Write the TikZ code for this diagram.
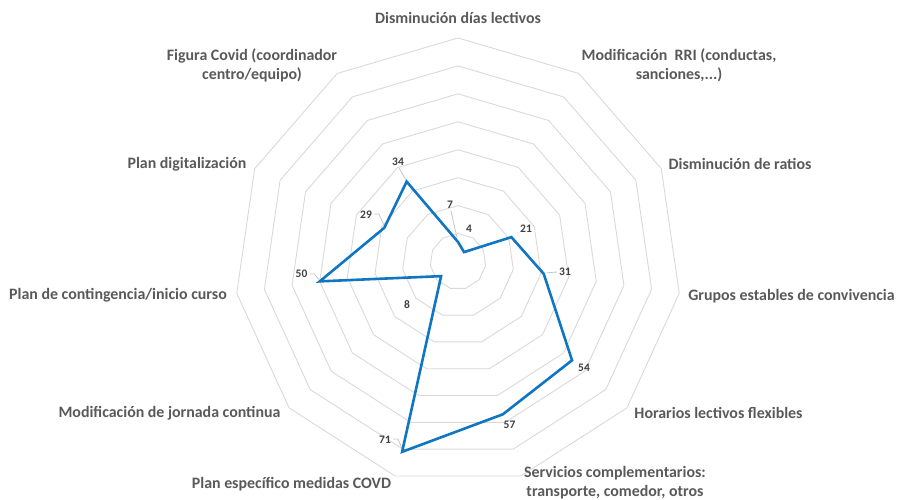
\documentclass[tikz,border=0pt]{standalone}
\usepackage{fontspec}
\setmainfont{Carlito}
\usetikzlibrary{calc}
\definecolor{gridc}{RGB}{217,217,217}
\definecolor{txtc}{RGB}{89,89,89}
\definecolor{valc}{RGB}{64,64,64}
\definecolor{serc}{RGB}{16,117,194}
\begin{document}
\begin{tikzpicture}[x=1pt,y=-1pt,
  gridline/.style={draw=gridc,line width=0.9pt},
  serline/.style={draw=serc,line width=2.6pt,line join=miter},
  axlabel/.style={text=txtc,font=\bfseries\fontsize{15.9}{19}\selectfont,align=center,inner sep=0pt},
  vallabel/.style={text=valc,font=\bfseries\fontsize{11.5}{13}\selectfont,inner sep=0pt},
  leader/.style={draw=gridc!80!gray,line width=0.8pt}]
\useasboundingbox (0,0) rectangle (900,500);
\coordinate (C) at (458,261.5);
% grid rings
\foreach \i in {1,...,8}{
  \draw[gridline] ($(C)+({\i*27.94*sin(0)},{-\i*27.94*cos(0)})$)
    \foreach \k in {1,...,10}{ -- ($(C)+({\i*27.94*sin(\k*360/11)},{-\i*27.94*cos(\k*360/11)})$)} -- cycle;
}
% data points
\foreach \k/\v in {0/7,1/4,2/21,3/31,4/54,5/57,6/71,7/8,8/50,9/29,10/34}{
  \coordinate (p\k) at ($(C)+({\v*2.794*sin(\k*360/11)},{-\v*2.794*cos(\k*360/11)})$);
}
% axis labels
\node[axlabel] (l0) at (458,18) {Disminución días lectivos};
\node[axlabel] (l1) at (679,65) {Modificación\ \ RRI (conductas,\\sanciones,...)};
\node[axlabel] (l2) at (740,164) {Disminución de ratios};
\node[axlabel] (l3) at (791.5,296) {Grupos estables de convivencia};
\node[axlabel] (l4) at (718.5,413) {Horarios lectivos flexibles};
\node[axlabel] (l5) at (615,483) {Servicios complementarios:\\transporte, comedor, otros};
\node[axlabel] (l6) at (291.5,484) {Plan específico medidas COVD};
\node[axlabel] (l7) at (169.5,413) {Modificación de jornada continua};
\node[axlabel] (l8) at (118,295) {Plan de contingencia/inicio curso};
\node[axlabel] (l9) at (187,164) {Plan digitalización};
\node[axlabel] (l10) at (252,65) {Figura Covid (coordinador\\centro/equipo)};
% value labels
\node[vallabel] (v0) at (450,205) {7};
\node[vallabel] (v1) at (469,229) {4};
\node[vallabel] (v2) at (526,229) {21};
\node[vallabel] (v3) at (565,272) {31};
\node[vallabel] (v4) at (584,368) {54};
\node[vallabel] (v5) at (509.5,425) {57};
\node[vallabel] (v6) at (385,440) {71};
\node[vallabel] (v7) at (407,305) {8};
\node[vallabel] (v8) at (301.5,274) {50};
\node[vallabel] (v9) at (366,215) {29};
\node[vallabel] (v10) at (398,162) {34};
% leader lines
\draw[leader] (v0.south) ++(1,2) -- ($(p0)+(-1,-4)$);
\draw[leader] (v10.south) ++(1,2) -- ($(p10)+(-1,-2)$);
\draw[leader] (v9.east) ++(2,-1) -- ++(5,0) -- ($(p9)+(0,-2)$);
\draw[leader] (v8.east) ++(2,0) -- ++(5,0) -- ($(p8)+(-1,-2)$);
\draw[leader] (v6.east) ++(2,-1) -- ++(5,0) -- ($(p6)+(0,-3)$);
\draw[leader] (v3.west) ++(-2,0) -- ($(p3)+(3,-1)$);
% series
\draw[serline] (p0) -- (p1) -- (p2) -- (p3) -- (p4) -- (p5) -- (p6) -- (p7) -- (p8) -- (p9) -- (p10) -- cycle;
\end{tikzpicture}
\end{document}
